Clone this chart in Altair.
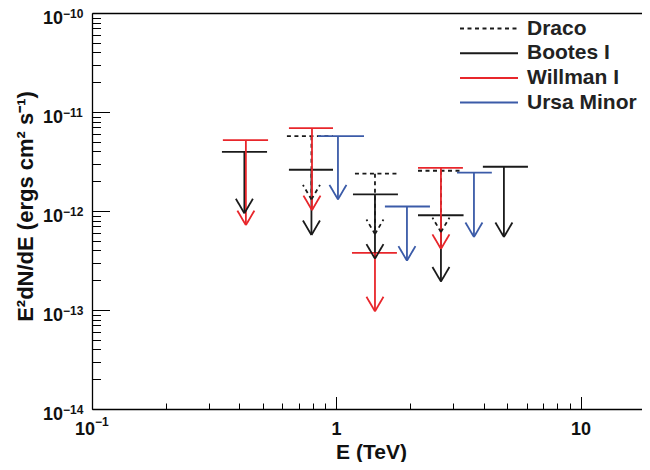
import altair as alt
import pandas as pd

# ---------------- data ----------------
sources = ["Draco", "Bootes I", "Willman I", "Ursa Minor"]
colors = ["#1a1a1a", "#1a1a1a", "#e8262b", "#3b5ba8"]
dashes = [[4, 3.5], [1, 0], [1, 0], [1, 0]]

src = ["Draco", "Draco", "Draco",
       "Bootes I", "Bootes I", "Bootes I", "Bootes I", "Bootes I",
       "Willman I", "Willman I", "Willman I", "Willman I",
       "Ursa Minor", "Ursa Minor", "Ursa Minor"]
e_center = [0.79, 1.437, 2.675,
            0.42, 0.79, 1.437, 2.675, 4.84,
            0.426, 0.794, 1.437, 2.675,
            1.014, 1.942, 3.65]
e_low = [0.627, 1.19, 2.155,
         0.34, 0.639, 1.168, 2.155, 3.97,
         0.343, 0.639, 1.157, 2.155,
         0.84, 1.578, 3.11]
e_high = [0.968, 1.784, 3.29,
          0.52, 0.968, 1.784, 3.31, 6.07,
          0.525, 0.968, 1.767, 3.29,
          1.296, 2.412, 4.32]
flux_ul = [5.7e-12, 2.38e-12, 2.55e-12,
           3.95e-12, 2.61e-12, 1.47e-12, 9.06e-13, 2.8e-12,
           5.2e-12, 6.86e-12, 3.78e-13, 2.73e-12,
           5.7e-12, 1.11e-12, 2.44e-12]
arrow_end = [1.31e-12, 5.85e-13, 6.12e-13,
             9.48e-13, 5.72e-13, 3.3e-13, 1.94e-13, 5.46e-13,
             7.2e-13, 1.02e-12, 9.7e-14, 4.14e-13,
             1.31e-12, 3.15e-13, 5.46e-13]

# tick labels: mantissa text and exponent text
x_major = [0.1, 1, 10]
x_label_base = ["10", "1", "10"]
x_label_exp = ["−1", "", ""]
x_minor = [0.2, 0.3, 0.4, 0.5, 0.6, 0.7, 0.8, 0.9, 2, 3, 4, 5, 6, 7, 8, 9]
y_major = [1e-14, 1e-13, 1e-12, 1e-11, 1e-10]
y_label_base = ["10", "10", "10", "10", "10"]
y_label_exp = ["−14", "−13", "−12", "−11", "−10"]
y_minor = [k * 10.0 ** e for e in range(-14, -10) for k in range(2, 10)]

x_domain = [0.1, 17.77]
y_domain = [1e-14, 1e-10]

df = pd.DataFrame({"source": src, "e": e_center, "elo": e_low, "ehi": e_high,
                   "ul": flux_ul, "tip": arrow_end})
xlab = pd.DataFrame({"v": x_major, "base": x_label_base, "exp": x_label_exp,
                     "ypos": [y_domain[0]] * len(x_major)})
ylab = pd.DataFrame({"v": y_major, "base": y_label_base, "exp": y_label_exp,
                     "xpos": [x_domain[0]] * len(y_major)})

# ---------------- style ----------------
W, H = 550, 396
FONT = "Liberation Sans"
SW = 1.8
TXT = "#111111"

xs = alt.Scale(type="log", domain=x_domain, nice=False)
ys = alt.Scale(type="log", domain=y_domain, nice=False)

legend_def = alt.Legend(
    title=None, orient="none", legendX=367, legendY=5.5,
    symbolType="stroke", symbolSize=3364, symbolStrokeWidth=2,
    labelFont=FONT, labelFontSize=21, labelFontWeight="bold", labelColor="#222222",
    labelOffset=8, clipHeight=20, rowPadding=3.7, padding=0,
)
color = alt.Color("source:N", scale=alt.Scale(domain=sources, range=colors), legend=legend_def)
dash = alt.StrokeDash("source:N", scale=alt.Scale(domain=sources, range=dashes), legend=legend_def)

x_title_axis = alt.Axis(
    orient="bottom", labels=False, ticks=False, tickSize=0, domain=True,
    domainColor="black", domainWidth=1.3, grid=False,
    title="E (TeV)", titleFont=FONT, titleFontSize=21, titleFontWeight="bold", titleColor=TXT,
    titleX=279, titleY=49, titleBaseline="alphabetic", titleAlign="center",
)
x_major_axis = alt.Axis(orient="top", offset=-H, values=x_major, labels=False, ticks=True,
                        tickSize=12.5, tickColor="black", tickWidth=1, domain=False, grid=False, title=None)
x_minor_axis = alt.Axis(orient="top", offset=-H, values=x_minor, labels=False, ticks=True,
                        tickSize=6, tickColor="black", tickWidth=1, domain=False, grid=False, title=None)
x_top_axis = alt.Axis(orient="top", offset=0, labels=False, ticks=False, domain=True,
                      domainColor="black", domainWidth=1.3, grid=False, title=None)

y_title_axis = alt.Axis(
    orient="left", labels=False, ticks=False, tickSize=0, domain=True,
    domainColor="black", domainWidth=1.3, grid=False,
    title="E²dN/dE (ergs cm² s⁻¹)", titleFont=FONT, titleFontSize=22, titleFontWeight="bold",
    titleColor=TXT, titleX=-67, titleY=193, titleAngle=270, titleAlign="center",
    titleBaseline="middle",
)
y_major_axis = alt.Axis(orient="right", offset=-W, values=y_major, labels=False, ticks=True,
                        tickSize=17.5, tickColor="black", tickWidth=1, domain=False, grid=False, title=None)
y_minor_axis = alt.Axis(orient="right", offset=-W, values=y_minor, labels=False, ticks=True,
                        tickSize=8.5, tickColor="black", tickWidth=1, domain=False, grid=False, title=None)

base = alt.Chart(df)

bars = base.mark_rule(strokeWidth=SW).encode(
    x=alt.X("elo:Q", scale=xs, axis=x_title_axis),
    x2=alt.X2("ehi"),
    y=alt.Y("ul:Q", scale=ys, axis=y_title_axis),
    color=color, strokeDash=dash,
)
stems = base.mark_rule(strokeWidth=SW).encode(
    x=alt.X("e:Q", scale=xs, axis=x_major_axis),
    y=alt.Y("ul:Q", scale=ys, axis=y_major_axis),
    y2=alt.Y2("tip"),
    color=color, strokeDash=dash,
)
head_left = base.mark_rule(strokeWidth=SW, x2Offset=-8.5, y2Offset=-14.5).encode(
    x=alt.X("e:Q", scale=xs, axis=x_minor_axis),
    x2=alt.X2("e"),
    y=alt.Y("tip:Q", scale=ys, axis=y_minor_axis),
    y2=alt.Y2("tip"),
    color=color, strokeDash=dash,
)
head_right = base.mark_rule(strokeWidth=SW, x2Offset=8.5, y2Offset=-14.5).encode(
    x=alt.X("e:Q", scale=xs, axis=x_top_axis),
    x2=alt.X2("e"),
    y=alt.Y("tip:Q", scale=ys, axis=None),
    y2=alt.Y2("tip"),
    color=color, strokeDash=dash,
)

# ---- tick labels as text (mantissa + raised exponent) ----
txt = dict(font=FONT, fontWeight="bold", color=TXT)

xl = alt.Chart(xlab)
x_plain = xl.transform_filter("datum.exp == ''").mark_text(
    align="center", baseline="alphabetic", dy=26, fontSize=18, **txt).encode(
    x=alt.X("v:Q", scale=xs, axis=None), y=alt.Y("ypos:Q", scale=ys, axis=None), text="base:N")
x_mant = xl.transform_filter("datum.exp != ''").mark_text(
    align="right", baseline="alphabetic", dx=3, dy=26, fontSize=18, **txt).encode(
    x=alt.X("v:Q", scale=xs, axis=None), y=alt.Y("ypos:Q", scale=ys, axis=None), text="base:N")
x_exp = xl.transform_filter("datum.exp != ''").mark_text(
    align="left", baseline="alphabetic", dx=3, dy=16.5, fontSize=12, **txt).encode(
    x=alt.X("v:Q", scale=xs, axis=None), y=alt.Y("ypos:Q", scale=ys, axis=None), text="exp:N")

yl = alt.Chart(ylab)
y_mant = yl.mark_text(align="left", baseline="alphabetic", dx=-49, dy=10.5, fontSize=18, **txt).encode(
    x=alt.X("xpos:Q", scale=xs, axis=None), y=alt.Y("v:Q", scale=ys, axis=None), text="base:N")
y_exp = yl.mark_text(align="left", baseline="alphabetic", dx=-29, dy=5, fontSize=12, **txt).encode(
    x=alt.X("xpos:Q", scale=xs, axis=None), y=alt.Y("v:Q", scale=ys, axis=None), text="exp:N")

chart = (
    alt.layer(bars, stems, head_left, head_right, x_plain, x_mant, x_exp, y_mant, y_exp)
    .resolve_axis(x="independent", y="independent")
    .properties(width=W, height=H,
                padding={"left": 84, "top": 5, "right": 0, "bottom": 53},
                autosize=alt.AutoSizeParams(type="none"), background="white")
    .configure_view(stroke=None)
    .configure_axis(grid=False)
)

chart.save("out.html", embed_options={"renderer": "svg", "actions": False})
